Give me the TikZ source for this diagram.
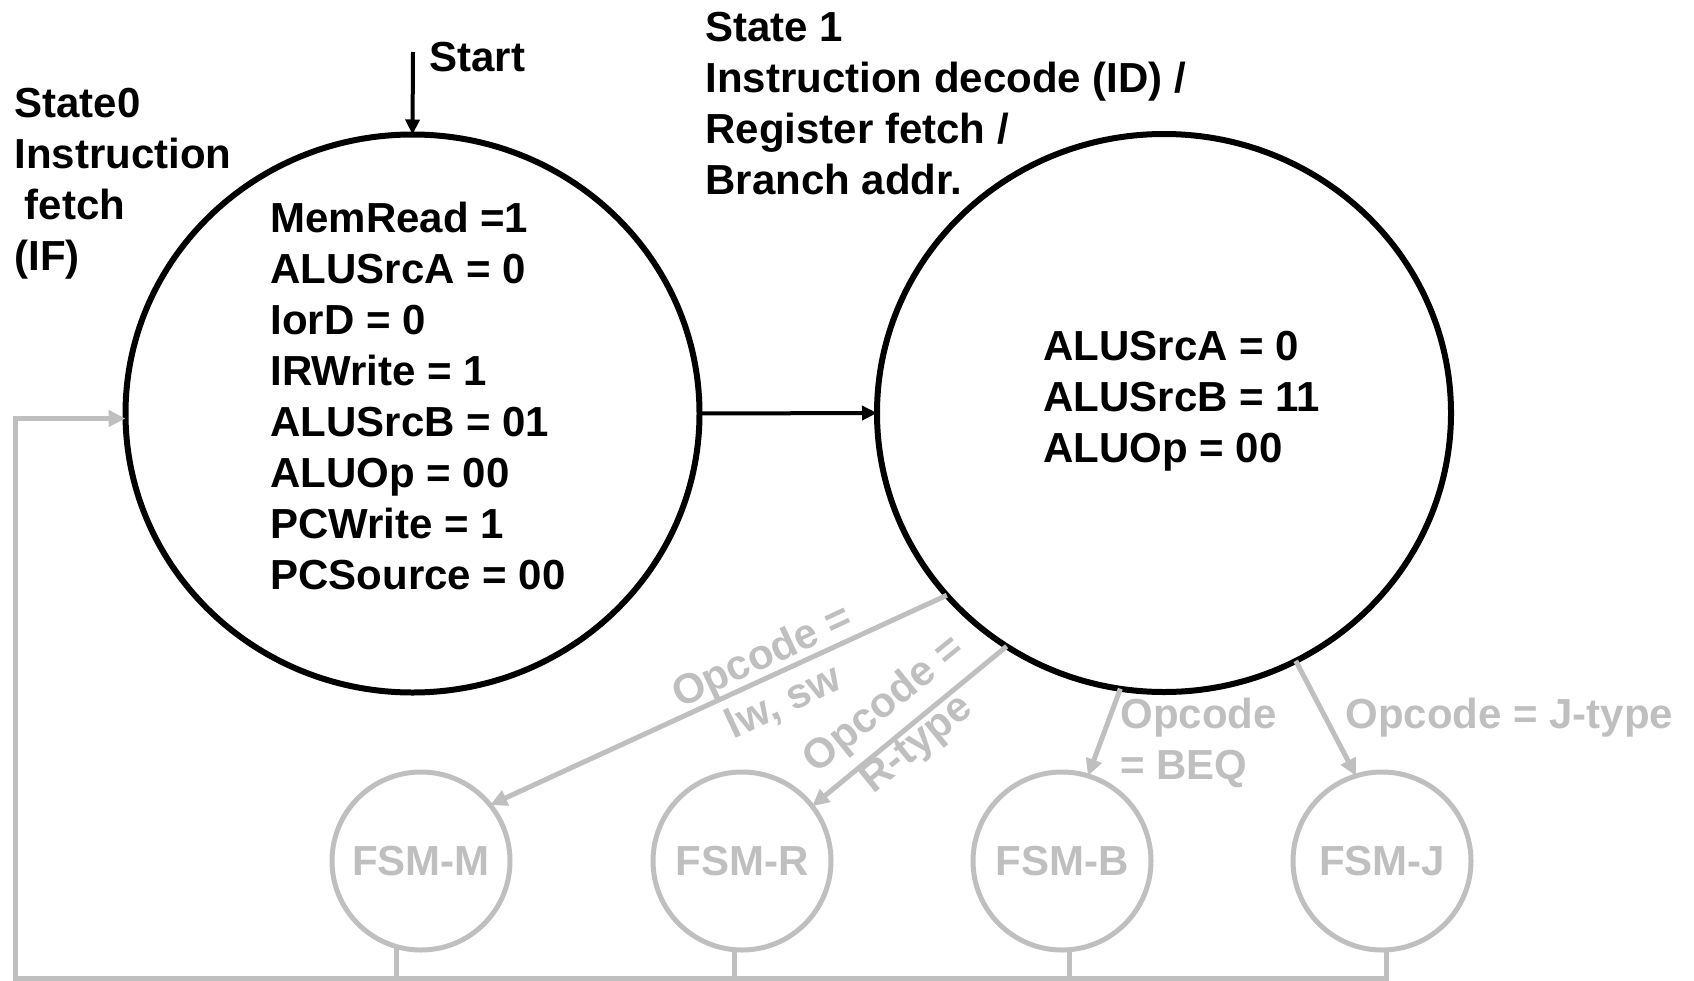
\documentclass[tikz,border=0pt]{standalone}
\usepackage{fontspec}
\setmainfont{Liberation Sans}
\usetikzlibrary{arrows.meta,shapes.geometric}
\definecolor{fsmgray}{RGB}{191,191,191}
\tikzset{every picture/.style={line width=0.75pt}}

\begin{document}
\begin{tikzpicture}[x=1pt,y=1pt,yscale=-1,xscale=1,
  font=\fontsize{42}{51}\selectfont\bfseries,
  bigstate/.style={draw, ellipse, line width=6pt, minimum width=574pt, minimum height=558pt, inner sep=0pt, outer sep=0pt},
  substate/.style={draw=fsmgray, circle, line width=5pt, minimum size=178pt, inner sep=0pt, outer sep=0pt, text=fsmgray},
  blackarrow/.style={line width=4pt, -{Triangle[length=15pt,width=14pt]}},
  grayarrow/.style={draw=fsmgray, line width=5pt, -{Triangle[length=17pt,width=16pt]}},
  grayline/.style={draw=fsmgray, line width=5pt},
  txt/.style={anchor=west, align=left, inner sep=0pt},
  graytxt/.style={align=center, inner sep=0pt, text=fsmgray}]
\useasboundingbox (0,0) rectangle (1694,980);

% States
\node [bigstate] (s0) at (412.5,413.5) {};
\node [bigstate] (s1) at (1164,413) {};
\node [substate] (fsmM) at (421,861) {FSM-M};
\node [substate] (fsmR) at (742,861) {FSM-R};
\node [substate] (fsmB) at (1062,861) {FSM-B};
\node [substate] (fsmJ) at (1382,861) {FSM-J};

% Text Node
\node [txt] (s0name) at (14,184) {State0\\Instruction\\\hspace*{0.25em}fetch\\(IF)};
\node [txt] (s1name) at (705,104) {State 1\\Instruction decode (ID) /\\Register fetch /\\Branch addr.};
\node [txt] (s0text) at (270,396) {MemRead =1\\ALUSrcA = 0\\IorD = 0\\IRWrite = 1\\ALUSrcB = 01\\ALUOp = 00\\PCWrite = 1\\PCSource = 00};
\node [txt] (s1text) at (1043,401) {ALUSrcA = 0\\ALUSrcB = 11\\ALUOp = 00};
\node [txt] (start) at (429,57) {Start};
\coordinate (startin) at (413,52);

% Connection
\draw [blackarrow] (startin) -- (s0.north);
\draw [blackarrow] (s0.east) -- (s1.west);

% Opcode branches
\draw [grayarrow] (s1.-140.8) -- (fsmM.39);
\draw [grayarrow] (s1.-124.8) -- (fsmR.38);
\draw [grayarrow] (s1.-99.5) -- (fsmB.73);
\draw [grayarrow] (s1.-62) -- (fsmJ.107);
\node [graytxt, rotate=25] (lblM) at (773,680) {Opcode =\\lw, sw};
\node [graytxt, rotate=39] (lblR) at (901,725) {Opcode =\\R-type};
\node [graytxt, anchor=west, align=left] (lblB) at (1120,743) {Opcode\\= BEQ};
\node [graytxt, anchor=west] (lblJ) at (1345,718) {Opcode = J-type};

% Return to State0
\coordinate (loopbl) at (15,978);
\draw [grayline] (fsmM.-106) -- (fsmM.-106 |- loopbl);
\draw [grayline] (fsmR.-95) -- (fsmR.-95 |- loopbl);
\draw [grayline] (fsmB.-85) -- (fsmB.-85 |- loopbl);
\draw [grayarrow] (fsmJ.-87) |- (loopbl) |- (s0.181);

\end{tikzpicture}
\end{document}
